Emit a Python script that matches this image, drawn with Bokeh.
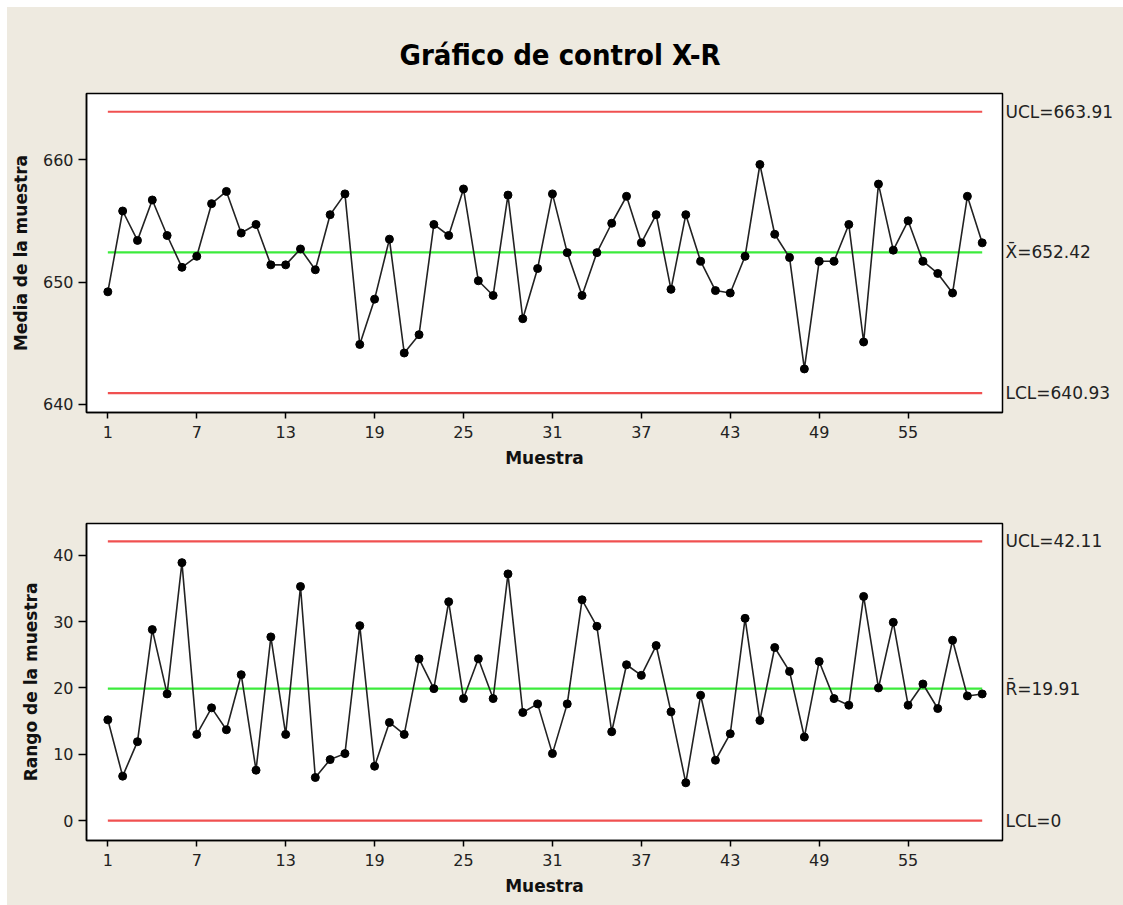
from bokeh.plotting import figure
from bokeh.layouts import column
from bokeh.models import FixedTicker, LinearAxis
from bokeh.embed import file_html
from bokeh.resources import INLINE

samples = list(range(1, 61))
means = [649.2, 655.8, 653.4, 656.7, 653.8, 651.2, 652.1, 656.4, 657.4, 654.0,
         654.7, 651.4, 651.4, 652.7, 651.0, 655.5, 657.2, 644.9, 648.6, 653.5,
         644.2, 645.7, 654.7, 653.8, 657.6, 650.1, 648.9, 657.1, 647.0, 651.1,
         657.2, 652.4, 648.9, 652.4, 654.8, 657.0, 653.2, 655.5, 649.4, 655.5,
         651.7, 649.3, 649.1, 652.1, 659.6, 653.9, 652.0, 642.9, 651.7, 651.7,
         654.7, 645.1, 658.0, 652.6, 655.0, 651.7, 650.7, 649.1, 657.0, 653.2]
ranges = [15.2, 6.7, 11.9, 28.8, 19.1, 38.9, 13.0, 17.0, 13.7, 22.0,
          7.6, 27.7, 13.0, 35.3, 6.5, 9.2, 10.1, 29.4, 8.2, 14.8,
          13.0, 24.4, 19.9, 33.0, 18.4, 24.4, 18.4, 37.2, 16.3, 17.6,
          10.1, 17.6, 33.3, 29.3, 13.4, 23.5, 21.9, 26.4, 16.4, 5.7,
          18.9, 9.1, 13.1, 30.5, 15.1, 26.1, 22.5, 12.6, 24.0, 18.4,
          17.4, 33.8, 20.0, 29.9, 17.4, 20.6, 16.9, 27.2, 18.8, 19.1]

x_limits = [640.93, 652.42, 663.91]   # LCL, center, UCL
r_limits = [0.0, 19.91, 42.11]
x_labels = ["LCL=640.93", "X\u0304=652.42", "UCL=663.91"]
r_labels = ["LCL=0", "R\u0304=19.91", "UCL=42.11"]
x_ticks = list(range(1, 61, 6))
mean_ticks = [640, 650, 660]
range_ticks = [0, 10, 20, 30, 40]

BG = "#EEEAE0"
RED = "#F05050"
GREEN = "#3CEB3C"
TICK_FONT = "DejaVu Sans"


def make(height, yr, yticks, ylabel, limits, labels, top, bottom, data):
    p = figure(width=1116, height=height, x_range=(-0.44, 61.37), y_range=yr,
               output_backend="svg", toolbar_location=None,
               min_border_left=79, min_border_right=121,
               min_border_top=top, min_border_bottom=bottom)
    p.background_fill_color = "white"
    p.border_fill_color = BG
    p.outline_line_color = "black"
    p.outline_line_width = 1.5
    p.xgrid.visible = False
    p.ygrid.visible = False
    for ax in (p.xaxis[0], p.yaxis[0]):
        ax.axis_line_color = "black"
        ax.axis_line_width = 1.5
        ax.major_tick_line_color = "black"
        ax.major_tick_line_width = 1.5
        ax.major_tick_in = 0
        ax.minor_tick_line_color = None
        ax.major_label_text_font = TICK_FONT
        ax.major_label_text_font_size = "16px"
        ax.major_label_text_color = "#222222"
        ax.axis_label_text_font = TICK_FONT
        ax.axis_label_text_font_style = "bold"
        ax.axis_label_text_font_size = "17px"
        ax.axis_label_text_color = "#111111"
    p.xaxis.ticker = FixedTicker(ticks=x_ticks)
    p.xaxis.major_tick_out = 6
    p.xaxis.major_label_standoff = 7
    p.xaxis.axis_label = "Muestra"
    p.xaxis.axis_label_standoff = 7
    p.yaxis.ticker = FixedTicker(ticks=yticks)
    p.yaxis.major_tick_out = 8
    p.yaxis.major_label_standoff = 5
    p.yaxis.axis_label = ylabel
    p.yaxis.axis_label_standoff = 9

    # control-limit labels on the right, as an axis with overridden labels
    rax = LinearAxis(ticker=FixedTicker(ticks=limits),
                     major_label_overrides={v: lab for v, lab in zip(limits, labels)},
                     axis_line_color=None, major_tick_line_color=None,
                     minor_tick_line_color=None, major_tick_out=0,
                     major_tick_in=0, major_label_standoff=3,
                     major_label_text_font=TICK_FONT,
                     major_label_text_font_size="17px",
                     major_label_text_color="#222222")
    p.add_layout(rax, "right")

    xs = [samples[0], samples[-1]]
    colors = [RED, GREEN, RED]
    for v, c in zip(limits, colors):
        p.line(xs, [v, v], line_color=c, line_width=2.2)
    p.line(samples, data, line_color="#222222", line_width=1.6)
    p.scatter(samples, data, size=8, marker="circle", fill_color="black",
              line_color="black")
    return p


p1 = make(483, (639.34, 665.4), mean_ticks, "Media de la muestra",
          x_limits, x_labels, 86, 78, means)
p1.title.text = "Gráfico de control X-R"
p1.title.align = "left"
p1.title.offset = 313
p1.title.text_font = "DejaVu Sans Condensed, Liberation Sans Narrow, Roboto, sans-serif"
p1.title.text_font_size = "29px"
p1.title.text_font_style = "bold"
p1.title.text_color = "black"
p1.title.standoff = 44

p2 = make(415, (-3.0, 44.8), range_ticks, "Rango de la muestra",
          r_limits, r_labels, 33, 65, ranges)

layout = column(p1, p2, spacing=0)
layout.margin = (7, 0, 0, 7)
layout.background = BG

open("out.html", "w").write(file_html(layout, INLINE))
